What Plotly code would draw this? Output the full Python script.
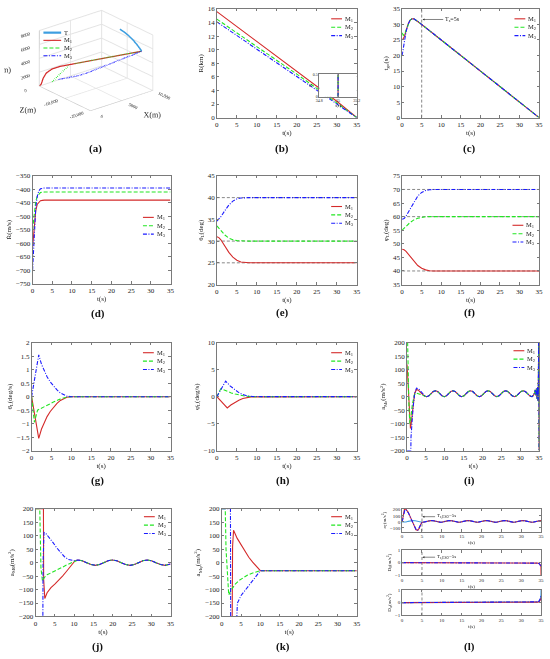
import plotly.graph_objects as go

W, H = 550, 659
SERIF = "Liberation Serif"
AXC = "#7a7a7a"
RED, GREEN, BLUE, CYAN, GREY = "#d42a2a", "#22e622", "#1b1bff", "#3d9ee0", "#555555"
NAMES = ["M<sub>1</sub>", "M<sub>2</sub>", "M<sub>3</sub>"]
STYLES = [dict(color=RED, width=1.1),
          dict(color=GREEN, width=1.1, dash="4px,2px"),
          dict(color=BLUE, width=1.1, dash="4px,1.5px,1px,1.5px")]

# ---------- (a) 3D trajectories, metres ----------
T_X = [8000, 8400, 8800, 9200, 9600, 10000]
T_Y = [8000, 7600, 7100, 6500, 5750, 4900]
T_Z = [-12000, -12700, -13450, -14200, -14950, -15700]
M1_X = [0, 200, 300, 500, 900, 1500, 5000, 7500, 10000]
M1_Y = [0, 300, 1200, 2000, 2700, 3200, 3900, 4400, 4900]
M1_Z = [0, -300, -800, -1500, -2800, -4500, -9100, -12400, -15700]
M2_X = [0, 1300, 2520, 5000, 7500, 10000]
M2_Y = [1500, 2500, 3400, 3920, 4420, 4900]
M2_Z = [-5000, -5400, -5840, -9100, -12400, -15700]
M3_X = [0, 1000, 2500, 4000, 5500, 7000, 8500, 10000]
M3_Y = [2300, 2350, 2500, 2900, 3400, 3900, 4400, 4900]
M3_Z = [-7500, -8320, -9550, -10780, -12000, -13240, -14470, -15700]

# ---------- (b) R(km) ----------
R_t = [0, 5, 10, 15, 20, 25, 30, 35]
R_M1 = [15.6, 13.4, 11.2, 9.0, 6.9, 4.7, 2.4, 0.0]
R_M2 = [14.5, 12.5, 10.4, 8.4, 6.4, 4.3, 2.2, 0.0]
R_M3 = [14.1, 12.1, 10.1, 8.1, 6.1, 4.0, 2.0, 0.0]
inset_t = [35.0, 35.0]
inset_R = [0.0, 0.5]

# ---------- (c) t_go(s) ----------
tgo_t = [0.0, 0.3, 0.6, 1.0, 1.5, 2.0, 2.5, 3.0, 4.0, 5.0, 35.0]
tgo_M1 = [25.0, 25.4, 26.2, 28.0, 30.0, 31.3, 31.8, 31.8, 31.0, 30.0, 0.0]
tgo_M2 = [27.3, 26.5, 26.8, 28.2, 30.0, 31.3, 31.8, 31.8, 31.0, 30.0, 0.0]
tgo_M3 = [20.0, 22.5, 25.0, 27.6, 30.0, 31.3, 31.8, 31.8, 31.0, 30.0, 0.0]
Ts = 5

# ---------- (d) Rdot(m/s) ----------
Rd_t = [0, 0.2, 0.5, 0.8, 1.2, 1.6, 2.0, 2.5, 3.0, 35]
Rd_M1 = [-615, -580, -520, -480, -455, -446, -442, -441, -440, -440]
Rd_M2 = [-550, -520, -475, -445, -425, -416, -412, -411, -410, -410]
Rd_M3 = [-700, -640, -540, -470, -425, -405, -398, -396, -395, -395]

# ---------- (e) theta_L, (f) phi_L (deg) ----------
ang_t = [0, 0.5, 1, 2, 3, 4, 5, 6, 7, 8, 35]
th_M1 = [31.0, 30.8, 30.3, 28.8, 27.4, 26.3, 25.6, 25.2, 25.05, 25.0, 25.0]
th_M2 = [33.5, 33.0, 32.4, 31.4, 30.7, 30.3, 30.1, 30.02, 30.0, 30.0, 30.0]
th_M3 = [34.6, 35.0, 35.6, 37.0, 38.3, 39.2, 39.7, 39.9, 40.0, 40.0, 40.0]
th_ref = [25, 30, 40]
ph_M1 = [48.0, 47.8, 47.2, 45.5, 43.6, 42.0, 41.0, 40.4, 40.1, 40.0, 40.0]
ph_M2 = [55.0, 55.6, 56.4, 57.8, 58.8, 59.4, 59.8, 59.95, 60.0, 60.0, 60.0]
ph_M3 = [59.0, 59.3, 60.2, 62.8, 65.5, 67.6, 68.9, 69.6, 69.9, 70.0, 70.0]
ph_ref = [40, 60, 70]

# ---------- (g) theta_L rate, (h) phi_L rate (deg/s) ----------
thd_t13 = [0, 1.8, 2.5, 3.2, 3.9, 4.7, 5.6, 6.4, 7.25, 8.1, 8.9, 10, 35]
thd_M1 = [0, -1.55, -1.2, -0.95, -0.74, -0.55, -0.38, -0.25, -0.14, -0.07, -0.02, 0, 0]
thd_M3 = [0, 1.55, 1.2, 0.95, 0.74, 0.55, 0.38, 0.25, 0.14, 0.07, 0.02, 0, 0]
thd_t2 = [0, 0.7, 1.5, 2.5, 4, 5.5, 7, 8.5, 10, 35]
thd_M2 = [0, -0.95, -0.5, -0.42, -0.32, -0.2, -0.1, -0.03, 0, 0]
phd_t1 = [0, 2.6, 3.5, 4.4, 5.5, 6.5, 7.5, 8.5, 35]
phd_M1 = [0, -2.1, -1.55, -1.1, -0.65, -0.35, -0.15, -0.04, 0]
phd_t2 = [0, 1.0, 1.5, 2.5, 3.6, 4.6, 5.7, 7, 8.5, 35]
phd_M2 = [0, 1.5, 1.35, 1.0, 0.7, 0.48, 0.3, 0.12, 0, 0]
phd_t3 = [0, 2.2, 3.3, 4.4, 5.5, 6.5, 7.75, 9, 35]
phd_M3 = [0, 2.9, 2.0, 1.3, 0.75, 0.4, 0.12, 0.02, 0]

# ---------- (i) a_Mr (m/s^2) ----------
ar_t1 = [0, 0.3, 0.7, 0.9, 1.1, 1.5, 2.0, 2.5, 3.0, 3.6, 4.2, 4.7]
ar_M1 = [120, 40, -100, -118, -100, -40, 12, 27, 24, 15, 7, 2]
ar_t2 = [0, 0.15, 0.5, 0.75, 1.0, 1.4, 1.9, 2.3, 2.8, 3.5, 4.3, 4.7]
ar_M2 = [200, 200, -40, -100, -80, -30, 5, 14, 12, 8, 6, 3]
ar_t3 = [0, 1.0, 1.05, 1.3, 1.6, 2.0, 2.5, 3.0, 3.6, 4.2, 4.7]
ar_M3 = [-200, -200, -150, -90, -40, 10, 32, 30, 20, 9, 3]
ar_tail_t = [5.2, 5.78, 6.36, 6.94, 7.53, 8.11, 8.69, 9.27,
             9.85, 10.43, 11.01, 11.59, 12.18, 12.76, 13.34, 13.92,
             14.5, 15.08, 15.66, 16.24, 16.83, 17.41, 17.99, 18.57,
             19.15, 19.73, 20.31, 20.89, 21.48, 22.06, 22.64, 23.22,
             23.8, 24.38, 24.96, 25.54, 26.13, 26.71, 27.29, 27.87,
             28.45, 29.03, 29.61, 30.19, 30.78, 31.36, 31.94, 32.52,
             33.1, 33.5, 33.8, 34.0, 34.15, 34.3, 34.45, 34.6, 34.7, 34.8, 34.88, 34.95, 35.0]
ar_tail_v = [0, 3, 11, 19, 22, 19, 11, 3,
             0, 3, 11, 19, 22, 19, 11, 3,
             0, 3, 11, 19, 22, 19, 11, 3,
             0, 3, 11, 19, 22, 19, 11, 3,
             0, 3, 11, 19, 22, 19, 11, 3,
             0, 3, 11, 19, 22, 19, 11, 3,
             0, 5, 14, 25, 5, 30, -8, 35, -15, 40, 200, 200, -200]

# ---------- (j) a_Mtheta (m/s^2) ----------
ath_t1 = [0, 2.05, 2.1, 2.4, 3.0, 4.0, 5.0, 6.0, 7.0, 8.0, 9.0, 9.8, 10.2]
ath_M1 = [200, 200, -60, -133, -112, -93, -80, -66, -50, -33, -15, 0, 6]
ath_t2 = [0, 1.1, 1.4, 1.8, 2.3, 3.0, 4.0, 5.0, 6.0, 7.0, 8.0, 9.0, 9.8, 10.2]
ath_M2 = [200, 200, -20, -68, -55, -45, -38, -32, -25, -17, -9, -2, 3, 6]
ath_t3 = [0, 1.9, 1.95, 2.2, 2.7, 3.5, 4.5, 5.5, 6.5, 7.5, 8.5, 9.5, 10.2]
ath_M3 = [-200, -200, 0, 112, 108, 95, 75, 55, 37, 22, 12, 8, 7]
ath_tail_t = [11.0, 12.1, 13.2, 14.4, 15.5, 16.6, 17.7, 18.8, 19.9, 21.05, 22.2, 23.35,
              24.5, 25.6, 26.7, 27.8, 28.9, 30.05, 31.2, 32.4, 33.6, 34.3, 35.0]
ath_tail_v = [10, 7, 0, -7, -10, -7, 0, 7, 10, 7, 0, -7, -10, -7, 0, 7, 10, 7, 0, -7, -10, -8, -5]

# ---------- (k) a_Mphi (m/s^2) ----------
aph_t1 = [0, 2.7, 2.8, 3.05, 4.0, 5.0, 6.0, 7.0, 8.0, 9.0, 10.0, 35.0]
aph_M1 = [-200, -200, 60, 120, 90, 65, 40, 20, 2, -15, -30, -30]
aph_t2 = [0, 0.9, 1.1, 1.8, 2.5, 3.5, 4.5, 5.5, 6.6, 7.7, 8.8, 10.0, 35.0]
aph_M2 = [200, 200, 50, -120, -100, -80, -66, -56, -47, -40, -35, -30, -30]
aph_t3 = [0, 2.25, 2.3, 3.9, 4.05, 5.0, 6.0, 7.0, 8.0, 9.0, 10.0, 35.0]
aph_M3 = [200, 200, -200, -200, -150, -122, -104, -86, -70, -50, -30, -30]

# ---------- (l) ESO estimates ----------
aT_t = [0, 0.4, 0.98, 1.55, 2.13, 2.7, 3.28, 3.85, 4.43,
        5.0, 5.58, 6.15, 6.73, 7.3, 7.88, 8.45, 9.03,
        9.6, 10.18, 10.75, 11.33, 11.9, 12.48, 13.05, 13.63,
        14.2, 14.78, 15.35, 15.93, 16.5, 17.08, 17.65, 18.23,
        18.8, 19.38, 19.95, 20.53, 21.1, 21.68, 22.25, 22.83,
        23.4, 23.98, 24.55, 25.13, 25.7, 26.28, 26.85, 27.43,
        28.0, 28.58, 29.15, 29.73, 30.3, 30.88, 31.45, 32.03,
        32.6, 33.18, 33.75, 34.33, 34.9, 35.0]
aT_v = [-4, -6, -2, 8, 18, 22, 18, 8, -2,
        -6, -2, 8, 18, 22, 18, 8, -2,
        -6, -2, 8, 18, 22, 18, 8, -2,
        -6, -2, 8, 18, 22, 18, 8, -2,
        -6, -2, 8, 18, 22, 18, 8, -2,
        -6, -2, 8, 18, 22, 18, 8, -2,
        -6, -2, 8, 18, 22, 18, 8, -2,
        -6, -2, 8, 18, 22, 22]
aTe_t1 = [0, 0.25, 0.6, 1.0, 1.5, 2.0, 2.5, 3.0, 3.5, 3.9, 4.3, 4.7]
aTe_M1 = [0, 120, 215, 205, 160, 90, 10, -70, -130, -140, -110, -40]
aTe_t3 = [0, 0.3, 0.7, 1.1, 1.6, 2.1, 2.6, 3.1, 3.6, 4.0, 4.4, 4.8]
aTe_M3 = [0, 110, 200, 190, 145, 70, -10, -90, -140, -135, -90, -25]
D1_t = [0, 33.5, 34.2, 34.6, 34.85, 34.97, 35.0]
D1_M1 = [0, -0.01, -0.04, -0.1, -0.2, -0.35, -1.0]
D1_M3 = [0, -0.01, -0.04, -0.1, -0.2, -0.3, -0.35]
D2_t = [0, 33.5, 34.2, 34.6, 34.85, 34.97, 35.0]
D2_true = [0, 0.02, 0.06, 0.15, 0.3, 0.6, 1.0]
D2_M1 = [0, 0.01, 0.04, 0.1, 0.2, 0.3, 0.4]
D2_M3 = [0, 0.02, 0.06, 0.15, 0.3, 0.5, 0.6]

fig = go.Figure()


def ax_id(n):
    return "" if n == 1 else str(n)


def line(n, t, v, style, name=None):
    k = ax_id(n)
    fig.add_trace(go.Scatter(x=t, y=v, mode="lines", line=style, name=name,
                             xaxis="x" + k, yaxis="y" + k, showlegend=False,
                             hoverinfo="skip"))


def trio(n, ts, vs):
    for t, v, st, nm in zip(ts, vs, STYLES, NAMES):
        line(n, t, v, st, nm)


def axes(n, xpx, ypx, xr, yr, ydt, ytitle, xdt=5, fs=7, tfs=7, xtitle="t(s)", yvals=None):
    k = ax_id(n)
    common = dict(showline=True, linecolor=AXC, linewidth=0.6, mirror="ticks",
                  ticks="inside", ticklen=2.5, tickwidth=0.6, tickcolor=AXC,
                  showgrid=False, zeroline=False,
                  tickfont=dict(family=SERIF, size=fs, color="#222"))
    xa = dict(common, domain=[xpx[0] / W, xpx[1] / W], range=xr, dtick=xdt,
              anchor="y" + k,
              title=dict(text=xtitle, font=dict(family=SERIF, size=tfs, color="#222"), standoff=2))
    ya = dict(common, domain=[1 - ypx[1] / H, 1 - ypx[0] / H], range=yr, anchor="x" + k,
              title=dict(text=ytitle, font=dict(family=SERIF, size=tfs, color="#222"), standoff=3))
    if yvals is None:
        ya["dtick"] = ydt
    else:
        ya["tickvals"] = yvals
    fig.update_layout(**{"xaxis" + k: xa, "yaxis" + k: ya})


def legend(x, y, dy, entries, ln=11):
    for i, (txt, st) in enumerate(entries):
        yy = 1 - (y + i * dy) / H
        fig.add_shape(type="line", xref="paper", yref="paper", x0=x / W, x1=(x + ln) / W,
                      y0=yy, y1=yy, line=st)
        fig.add_annotation(xref="paper", yref="paper", x=(x + ln + 1) / W, y=yy, text=txt,
                           showarrow=False, xanchor="left", yanchor="middle",
                           font=dict(family=SERIF, size=6.5, color="#222"))


def mleg(x, y, dy=8.5):
    legend(x, y, dy, list(zip(NAMES, STYLES)))


def panel_label(txt, x, y):
    fig.add_annotation(xref="paper", yref="paper", x=x / W, y=1 - y / H, text="<b>" + txt + "</b>",
                       showarrow=False, xanchor="center", yanchor="middle",
                       font=dict(family=SERIF, size=11, color="#111"))


dash_ref = dict(color=GREY, width=0.7, dash="3px,2px")

# (a)
fig.add_trace(go.Scatter3d(x=T_X, y=T_Z, z=T_Y, mode="lines", line=dict(color=CYAN, width=3),
                           showlegend=False, hoverinfo="skip"))
for X, Y, Z, d, st in [(M1_X, M1_Y, M1_Z, "solid", STYLES[0]), (M2_X, M2_Y, M2_Z, "dash", STYLES[1]),
                       (M3_X, M3_Y, M3_Z, "dashdot", STYLES[2])]:
    fig.add_trace(go.Scatter3d(x=X, y=Z, z=Y, mode="lines", line=dict(color=st["color"], width=2.5, dash=d),
                               showlegend=False, hoverinfo="skip"))
ax3 = dict(showbackground=False, gridcolor="#e3e3e3", linecolor="#bbb", showspikes=False,
           tickfont=dict(family=SERIF, size=7.5, color="#222"), zeroline=False)
fig.update_layout(scene=dict(
    domain=dict(x=[0, 190 / W], y=[1 - 128 / H, 1]),
    xaxis=dict(ax3, title=dict(text="X(m)", font=dict(family=SERIF, size=8)), range=[0, 10000],
               tickvals=[0, 5000, 10000], ticktext=["0", "5000", "10,000"]),
    yaxis=dict(ax3, title=dict(text="Z(m)", font=dict(family=SERIF, size=8)), range=[-20000, 0],
               tickvals=[-20000, -10000, 0], ticktext=["-20,000", "-10,000", "0"]),
    zaxis=dict(ax3, title=dict(text="Y(m)", font=dict(family=SERIF, size=8)), range=[0, 8000],
               tickvals=[0, 2000, 4000, 6000, 8000]),
    aspectmode="manual", aspectratio=dict(x=1.28, y=1.28, z=0.96),
    camera=dict(eye=dict(x=-1.25, y=-1.56, z=0.75), center=dict(x=0.03, y=0, z=-0.12),
                projection=dict(type="orthographic"))))
legend(40, 29, 7.8, [("T", dict(color=CYAN, width=2.2))] + list(zip(NAMES, STYLES)), ln=18)

# (b)
axes(1, (216, 358), (5, 115), [0, 35], [0, 16], 2, "R(km)")
trio(1, [R_t] * 3, [R_M1, R_M2, R_M3])
mleg(332, 15)
axes(2, (320, 358), (71, 94), [34.8, 35.2], [0, 0.5], None, "R", xdt=0.2, fs=4, tfs=4,
     yvals=[0, 0.5])
fig.update_layout(xaxis2=dict(tickvals=[34.8, 35, 35.2], title_standoff=0), yaxis2=dict(title_standoff=0))
trio(2, [inset_t] * 3, [inset_R] * 3)

# (c)
axes(3, (404, 543), (5, 115), [0, 35], [0, 35], 5, "t<sub>go</sub>(s)")
line(3, [Ts, Ts], [0, 35], dash_ref)
trio(3, [tgo_t] * 3, [tgo_M1, tgo_M2, tgo_M3])
mleg(518, 15)
fig.add_annotation(xref="x3", yref="y3", axref="x3", ayref="y3", x=Ts + 0.2, y=31.6, ax=10.5, ay=31.6,
                   text="T<sub>s</sub>=5s", showarrow=True, arrowhead=2, arrowsize=0.7, arrowwidth=0.6,
                   arrowcolor="#333", xanchor="left", font=dict(family=SERIF, size=6, color="#222"))

# (d)
axes(4, (29, 169), (174, 283), [0, 35], [-750, -350], 50, "R\u0307(m/s)")
trio(4, [Rd_t] * 3, [Rd_M1, Rd_M2, Rd_M3])
mleg(141, 216)

# (e)
axes(5, (216, 358), (174, 284), [0, 35], [20, 45], 5, "θ<sub>L</sub>(deg)")
for v in th_ref:
    line(5, [0, 35], [v, v], dash_ref)
trio(5, [ang_t] * 3, [th_M1, th_M2, th_M3])
mleg(332, 205)

# (f)
axes(6, (404, 543), (174, 284), [0, 35], [35, 75], 5, "φ<sub>L</sub>(deg)")
for v in ph_ref:
    line(6, [0, 35], [v, v], dash_ref)
trio(6, [ang_t] * 3, [ph_M1, ph_M2, ph_M3])
mleg(516, 224)

# (g)
axes(7, (28, 169), (343, 452), [0, 35], [-2, 2], 0.5, "θ\u0307<sub>L</sub>(deg/s)")
trio(7, [thd_t13, thd_t2, thd_t13], [thd_M1, thd_M2, thd_M3])
mleg(141, 353)

# (h)
axes(8, (216, 358), (343, 452), [0, 35], [-10, 10], 5, "φ\u0307<sub>L</sub>(deg/s)")
trio(8, [phd_t1, phd_t2, phd_t3], [phd_M1, phd_M2, phd_M3])
mleg(332, 353)

# (i)
axes(9, (409, 543), (343, 452), [0, 35], [-200, 200], 50, "a<sub>Mr</sub>(m/s<sup>2</sup>)")
trio(9, [ar_t1 + ar_tail_t, ar_t2 + ar_tail_t, ar_t3 + ar_tail_t],
     [ar_M1 + ar_tail_v, ar_M2 + ar_tail_v, ar_M3 + ar_tail_v])
mleg(517, 351)

# (j)
axes(10, (32, 169), (511, 620), [0, 35], [-200, 200], 50, "a<sub>Mθ</sub>(m/s<sup>2</sup>)")
trio(10, [ath_t1 + ath_tail_t, ath_t2 + ath_tail_t, ath_t3 + ath_tail_t],
     [ath_M1 + ath_tail_v, ath_M2 + ath_tail_v, ath_M3 + ath_tail_v])
mleg(142, 519)

# (k)
axes(11, (221, 358), (511, 620), [0, 35], [-200, 200], 50, "a<sub>Mφ</sub>(m/s<sup>2</sup>)")
trio(11, [aph_t1, aph_t2, aph_t3], [aph_M1, aph_M2, aph_M3])
mleg(332, 519)

# (l)
tail_start = aT_t.index(5.0)
axes(12, (404, 545), (511, 534), [0, 35], [-160, 215], None, "a<sub>T</sub>(m/s<sup>2</sup>)", fs=5, tfs=5,
     yvals=[-100, 0, 100, 200])
line(12, [Ts, Ts], [-160, 215], dash_ref)
line(12, aT_t, aT_v, dict(color=CYAN, width=1.1))
line(12, aTe_t1 + aT_t[tail_start:], aTe_M1 + aT_v[tail_start:], STYLES[0])
line(12, aTe_t3 + aT_t[tail_start:], aTe_M3 + aT_v[tail_start:], STYLES[2])
fig.add_annotation(xref="x12", yref="y12", axref="x12", ayref="y12", x=Ts + 0.1, y=85, ax=8.3, ay=85,
                   text="T<sub>s,ESO</sub>=5s", showarrow=True, arrowhead=2, arrowsize=0.7, arrowwidth=0.6,
                   arrowcolor="#333", xanchor="left", font=dict(family=SERIF, size=5, color="#222"))

axes(13, (404, 545), (553, 578), [0, 35], [-1, 1], 1, "D<sub>θ</sub>(m/s<sup>2</sup>)", fs=5, tfs=5)
line(13, [Ts, Ts], [-1, 1], dash_ref)
line(13, D1_t, D1_M1, STYLES[0])
line(13, D1_t, D1_M3, STYLES[2])
fig.add_annotation(xref="x13", yref="y13", axref="x13", ayref="y13", x=Ts + 0.1, y=0.44, ax=8.3, ay=0.44,
                   text="T<sub>s,ESO</sub>=5s", showarrow=True, arrowhead=2, arrowsize=0.7, arrowwidth=0.6,
                   arrowcolor="#333", xanchor="left", font=dict(family=SERIF, size=5, color="#222"))

axes(14, (404, 545), (593, 619), [0, 35], [-1, 1], 1, "D<sub>φ</sub>(m/s<sup>2</sup>)", fs=5, tfs=5)
line(14, [Ts, Ts], [-1, 1], dash_ref)
line(14, D2_t, D2_true, dict(color=CYAN, width=1.1))
line(14, D2_t, D2_M1, STYLES[0])
line(14, D2_t, D2_M3, STYLES[2])

for txt, x, y in [("(a)", 93, 146), ("(b)", 282, 146), ("(c)", 472, 146),
                  ("(d)", 95, 313), ("(e)", 283, 312), ("(f)", 472, 312),
                  ("(g)", 95, 482), ("(h)", 283, 482), ("(i)", 472, 482),
                  ("(j)", 95, 650), ("(k)", 283, 650), ("(l)", 472, 650)]:
    panel_label(txt, x, y)

fig.update_layout(width=W, height=H, margin=dict(l=0, r=0, t=0, b=0),
                  paper_bgcolor="white", plot_bgcolor="white", showlegend=False,
                  font=dict(family=SERIF, color="#222"))

fig.write_html("out.html", config={"displayModeBar": False},
               post_script="document.body.style.margin='0px';")
